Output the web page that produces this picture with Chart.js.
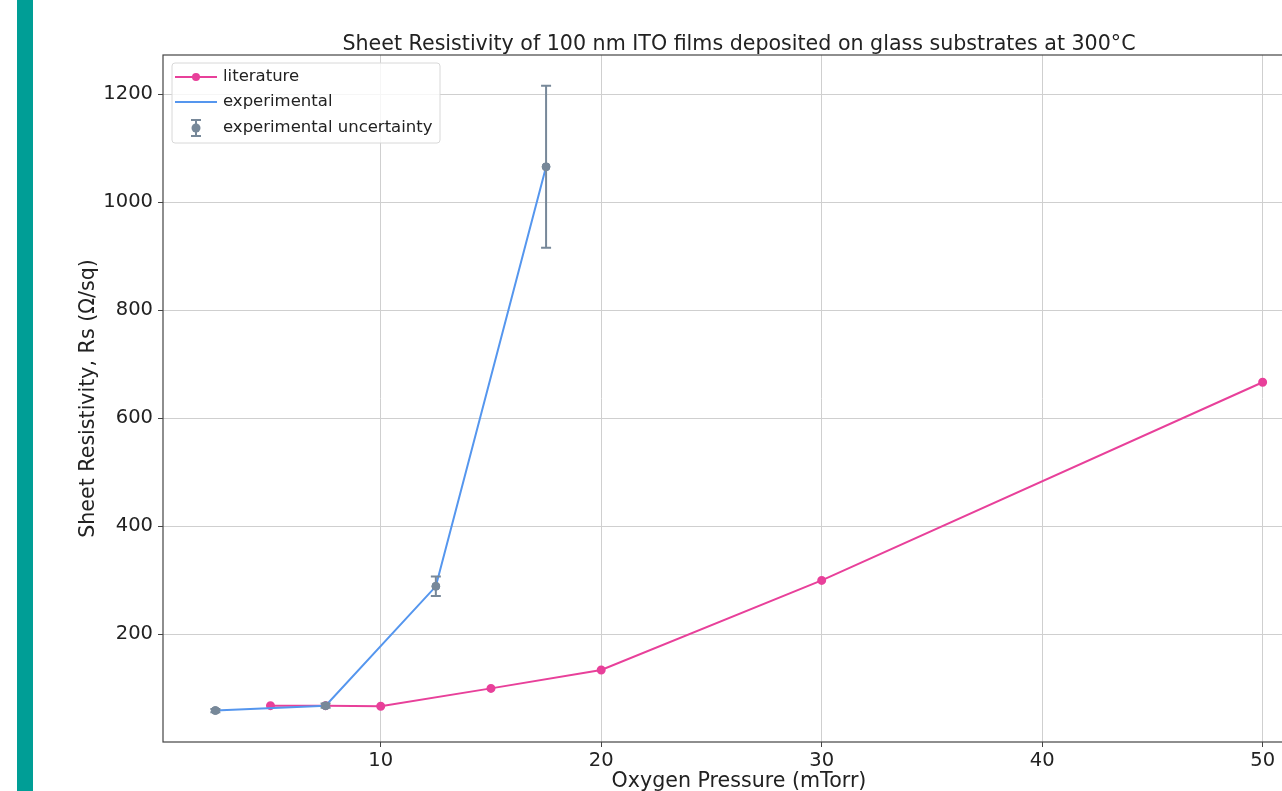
<!DOCTYPE html>
<html lang="en">

<head>
  <meta charset="UTF-8">
  <title>Sheet Resistivity of ITO films</title>
  <style>
    html, body {
      margin: 0;
      padding: 0;
      background: #fff;
      overflow: hidden;
    }

    #bar {
      position: absolute;
      left: 17px;
      top: 0;
      width: 16px;
      height: 791px;
      background: #009e96;
    }

    #wrap {
      position: absolute;
      left: 0;
      top: 0;
      width: 1340px;
      height: 800px;
    }
  </style>
</head>

<body>
  <div id="bar"></div>
  <div id="wrap"><canvas id="chart" width="1340" height="800"></canvas></div>

  <script src="https://cdn.jsdelivr.net/npm/chart.js"></script>
  <script>
    // literature values
    const litPressure = [5, 7.5, 10, 15, 20, 30, 50];
    const litRs = [68, 68, 67, 100, 134, 300, 667];

    // experimental values and uncertainty
    const expPressure = [2.5, 7.5, 12.5, 17.5];
    const expRs = [59, 68, 289, 1066];
    const expErr = [3, 4, 18, 150];

    const xTicks = [10, 20, 30, 40, 50];
    const yTicks = [200, 400, 600, 800, 1000, 1200];

    const chartTitle = 'Sheet Resistivity of 100 nm ITO films deposited on glass substrates at 300°C';
    const legendLabels = ['literature', 'experimental', 'experimental uncertainty'];

    const pink = '#e8409a';
    const blue = '#5596ee';
    const gray = '#778899';
    const font = "'DejaVu Sans', sans-serif";

    const toPts = (xs, ys) => xs.map((x, i) => ({ x: x, y: ys[i] }));

    // error bars + frame + title centred on the plot area
    const errorBars = {
      id: 'errorBars',
      afterDatasetsDraw(chart) {
        const { ctx, scales: { x, y } } = chart;
        ctx.save();
        ctx.strokeStyle = gray;
        ctx.lineWidth = 2;
        expPressure.forEach((p, i) => {
          const px = x.getPixelForValue(p);
          const top = y.getPixelForValue(expRs[i] + expErr[i]);
          const bot = y.getPixelForValue(expRs[i] - expErr[i]);
          ctx.beginPath();
          ctx.moveTo(px, top); ctx.lineTo(px, bot);
          ctx.moveTo(px - 5, top); ctx.lineTo(px + 5, top);
          ctx.moveTo(px - 5, bot); ctx.lineTo(px + 5, bot);
          ctx.stroke();
        });
        // re-draw the markers over the bars
        ctx.fillStyle = gray;
        expPressure.forEach((p, i) => {
          ctx.beginPath();
          ctx.arc(x.getPixelForValue(p), y.getPixelForValue(expRs[i]), 4, 0, Math.PI * 2);
          ctx.fill();
        });
        const a = chart.chartArea;
        ctx.strokeStyle = '#444';
        ctx.lineWidth = 1.2;
        ctx.strokeRect(a.left, a.top, a.right - a.left, a.bottom - a.top);

        ctx.fillStyle = '#222';
        ctx.font = '20.6px ' + font;
        ctx.textAlign = 'center';
        ctx.textBaseline = 'middle';
        ctx.fillText(chartTitle, (a.left + a.right) / 2, a.top - 10);
        ctx.restore();
      }
    };

    // legend inside the plot, upper left
    const boxLegend = {
      id: 'boxLegend',
      afterDraw(chart) {
        const { ctx, chartArea: a } = chart;
        const bx = a.left + 9, by = a.top + 8, bw = 268, bh = 80;
        ctx.save();
        ctx.fillStyle = 'rgba(255,255,255,0.8)';
        ctx.strokeStyle = '#d8d8d8';
        ctx.lineWidth = 1;
        ctx.beginPath();
        ctx.roundRect(bx, by, bw, bh, 3);
        ctx.fill();
        ctx.stroke();

        const sx = bx + 3, ex = bx + 45, mx = bx + 24;
        const rows = [by + 14, by + 39, by + 65];
        ctx.lineWidth = 2;
        // literature
        ctx.strokeStyle = pink;
        ctx.beginPath(); ctx.moveTo(sx, rows[0]); ctx.lineTo(ex, rows[0]); ctx.stroke();
        ctx.fillStyle = pink;
        ctx.beginPath(); ctx.arc(mx, rows[0], 4, 0, Math.PI * 2); ctx.fill();
        // experimental
        ctx.strokeStyle = blue;
        ctx.beginPath(); ctx.moveTo(sx, rows[1]); ctx.lineTo(ex, rows[1]); ctx.stroke();
        // uncertainty
        ctx.strokeStyle = gray;
        ctx.beginPath();
        ctx.moveTo(mx, rows[2] - 8); ctx.lineTo(mx, rows[2] + 8);
        ctx.moveTo(mx - 5, rows[2] - 8); ctx.lineTo(mx + 5, rows[2] - 8);
        ctx.moveTo(mx - 5, rows[2] + 8); ctx.lineTo(mx + 5, rows[2] + 8);
        ctx.stroke();
        ctx.fillStyle = gray;
        ctx.beginPath(); ctx.arc(mx, rows[2], 4.5, 0, Math.PI * 2); ctx.fill();

        ctx.fillStyle = '#222';
        ctx.font = '16.5px ' + font;
        ctx.textBaseline = 'middle';
        legendLabels.forEach((t, i) => {
          ctx.fillText(t, bx + 51, rows[i]);
        });
        ctx.restore();
      }
    };

    const ctx = document.getElementById('chart').getContext('2d');
    new Chart(ctx, {
      type: 'scatter',
      data: {
        datasets: [
          {
            label: 'experimental uncertainty',
            data: toPts(expPressure, expRs),
            showLine: false,
            pointRadius: 4,
            backgroundColor: gray,
            borderColor: gray,
            order: 0
          },
          {
            label: 'experimental',
            data: toPts(expPressure, expRs),
            showLine: true,
            borderColor: blue,
            borderWidth: 2,
            pointRadius: 0,
            order: 1
          },
          {
            label: 'literature',
            data: toPts(litPressure, litRs),
            showLine: true,
            borderColor: pink,
            backgroundColor: pink,
            borderWidth: 2,
            pointRadius: 3.5,
            order: 2
          }
        ]
      },
      options: {
        responsive: false,
        animation: false,
        layout: { padding: { left: 0, right: 25, top: 55, bottom: 0 } },
        plugins: {
          legend: { display: false },
          tooltip: { enabled: false },
          title: { display: false }
        },
        scales: {
          x: {
            type: 'linear',
            min: 0.125,
            max: 52.375,
            afterBuildTicks: s => { s.ticks = xTicks.map(v => ({ value: v })); },
            afterFit: s => { s.height = 58; },
            grid: { color: '#cfcfcf', tickLength: 5, tickColor: '#444' },
            border: { display: false },
            ticks: { color: '#222', padding: 2, maxRotation: 0, font: { family: font, size: 19.5 } },
            title: {
              display: true,
              text: 'Oxygen Pressure (mTorr)',
              color: '#222',
              font: { family: font, size: 20.6 },
              padding: { top: 0, bottom: 6 }
            }
          },
          y: {
            type: 'linear',
            min: 0.7,
            max: 1273,
            afterBuildTicks: s => { s.ticks = yTicks.map(v => ({ value: v })); },
            afterFit: s => { s.width = 163; },
            grid: { color: '#cfcfcf', tickLength: 5, tickColor: '#444' },
            border: { display: false },
            ticks: { color: '#222', padding: 5, font: { family: font, size: 19.5 }, callback: v => String(v) },
            title: {
              display: true,
              text: 'Sheet Resistivity, Rs (Ω/sq)',
              color: '#222',
              font: { family: font, size: 20.6 },
              padding: { top: 76, bottom: 0 }
            }
          }
        }
      },
      plugins: [errorBars, boxLegend]
    });
  </script>
</body>

</html>
